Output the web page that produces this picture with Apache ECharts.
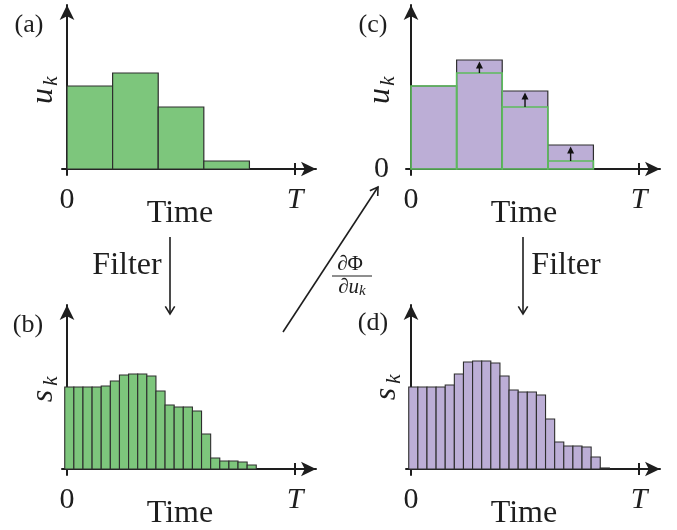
<!DOCTYPE html>
<html>
<head>
<meta charset="utf-8">
<script src="https://cdn.jsdelivr.net/npm/echarts@6/dist/echarts.min.js"></script>
<style>
html,body{margin:0;padding:0;background:#fff;}
#chart{width:677px;height:530px;}
</style>
</head>
<body>
<div id="chart"></div>
<script>
// ---- data ----
const xTickValues = [0, 5];
const xTickLabels = ['0', 'T'];
const yTickValuesC = [0];
const yTickLabelsC = ['0'];
const controlStep = 1;           // width of one control interval (T = 5 intervals)
const uInitial = [0.83, 0.96, 0.62, 0.08, 0];
const uUpdated = [0.83, 1.09, 0.78, 0.24, 0];
const filterStart = -0.05;       // start time of first filtered sample
const filterStep = 0.2;          // filtered sample width
const sInitial = [0.82, 0.82, 0.82, 0.82, 0.83, 0.88, 0.94, 0.95, 0.95, 0.93, 0.78,
                  0.64, 0.62, 0.62, 0.58, 0.35, 0.11, 0.08, 0.08, 0.07, 0.04, 0];
const sUpdated = [0.82, 0.82, 0.82, 0.82, 0.84, 0.95, 1.07, 1.08, 1.08, 1.06, 0.93,
                  0.79, 0.77, 0.77, 0.74, 0.50, 0.27, 0.23, 0.23, 0.22, 0.12, 0.01];
const tickT = [5];

// ---- styles ----
const FONT = 'Liberation Serif';
const INK = '#1e1e1e';
const GREEN = '#7dc67c';
const GREEN_LINE = '#5cbc5c';
const PURPLE = '#bcaed6';
const EDGE = '#2e2e2e';

const chart = echarts.init(document.getElementById('chart'), null, {renderer: 'canvas'});

const grids = [
  {left: 62, top: 5, width: 254, height: 170},
  {left: 62, top: 305, width: 254, height: 170},
  {left: 406, top: 5, width: 254, height: 170},
  {left: 406, top: 305, width: 254, height: 170}
];

function xAx(i) {
  return {
    type: 'value', gridIndex: i, min: -0.11, max: 5.46,
    splitLine: {show: false}, axisTick: {show: false},
    axisLine: {show: true, onZero: true, symbol: ['none', 'arrow'], symbolSize: [11, 15],
      lineStyle: {color: INK, width: 2}},
    axisLabel: {
      customValues: xTickValues, margin: 10, fontSize: 30, fontFamily: FONT, color: INK,
      formatter: function (v) {
        const lab = xTickLabels[xTickValues.indexOf(v)];
        return lab === 'T' ? '{it|T}' : lab;
      },
      rich: {it: {fontStyle: 'italic', fontSize: 30, fontFamily: FONT, color: INK}}
    }
  };
}
function yAx(i, withZero) {
  return {
    type: 'value', gridIndex: i, min: -0.06, max: 1.64,
    splitLine: {show: false}, axisTick: {show: false},
    axisLine: {show: true, onZero: true, symbol: ['none', 'arrow'], symbolSize: [11, 15],
      lineStyle: {color: INK, width: 2}},
    axisLabel: withZero ? {
      customValues: yTickValuesC, margin: 17, fontSize: 30, fontFamily: FONT, color: INK,
      formatter: function (v) { return yTickLabelsC[yTickValuesC.indexOf(v)]; }
    } : {show: false}
  };
}

function barRender(fill, stroke, lw) {
  return function (params, api) {
    const p0 = api.coord([api.value(0), 0]);
    const p1 = api.coord([api.value(1), api.value(2)]);
    return {
      type: 'rect',
      shape: {x: p0[0], y: p1[1], width: p1[0] - p0[0], height: p0[1] - p1[1]},
      style: {fill: fill, stroke: stroke, lineWidth: lw}
    };
  };
}
function tickRender(params, api) {
  const a = api.coord([api.value(0), -0.06]);
  const b = api.coord([api.value(0), 0.06]);
  return {type: 'line', shape: {x1: a[0], y1: a[1], x2: b[0], y2: b[1]},
    style: {stroke: INK, lineWidth: 2}};
}
function arrowRender(params, api) {
  const p0 = api.coord([api.value(0), api.value(1)]);
  const p1 = api.coord([api.value(0), api.value(2)]);
  const tip = p1[1] + 1.5;
  return {
    type: 'group',
    children: [
      {type: 'line', shape: {x1: p0[0], y1: p0[1], x2: p0[0], y2: tip + 5},
        style: {stroke: '#111', lineWidth: 1.4}},
      {type: 'polygon', shape: {points: [[p0[0] - 3.5, tip + 7], [p0[0], tip], [p0[0] + 3.5, tip + 7]]},
        style: {fill: '#111'}}
    ]
  };
}

const controlBars = arr => arr.map((v, k) => [k * controlStep, (k + 1) * controlStep, v]).filter(d => d[2] > 0);
const filterBars = arr => arr.map((v, i) => [filterStart + i * filterStep, filterStart + (i + 1) * filterStep, v]).filter(d => d[2] > 0);

const series = [];
// T ticks on every panel
for (let g = 0; g < 4; g++) {
  series.push({type: 'custom', xAxisIndex: g, yAxisIndex: g, data: tickT.map(v => [v]),
    renderItem: tickRender, silent: true, z: 3});
}
// (a)
series.push({type: 'custom', xAxisIndex: 0, yAxisIndex: 0, data: controlBars(uInitial),
  renderItem: barRender(GREEN, EDGE, 1.2), z: 2});
// (b)
series.push({type: 'custom', xAxisIndex: 1, yAxisIndex: 1, data: filterBars(sInitial),
  renderItem: barRender(GREEN, EDGE, 1.1), z: 2});
// (c) updated bars, old outlines, arrows
series.push({type: 'custom', xAxisIndex: 2, yAxisIndex: 2, data: controlBars(uUpdated),
  renderItem: barRender(PURPLE, EDGE, 1.2), z: 2});
series.push({type: 'custom', xAxisIndex: 2, yAxisIndex: 2, data: controlBars(uInitial),
  renderItem: barRender('none', GREEN_LINE, 1.6), z: 3});
series.push({type: 'custom', xAxisIndex: 2, yAxisIndex: 2,
  data: uInitial.map((v, k) => [(k + 0.5) * controlStep, v, uUpdated[k]]).filter(d => d[2] > d[1] + 0.02),
  renderItem: arrowRender, z: 4});
// (d)
series.push({type: 'custom', xAxisIndex: 3, yAxisIndex: 3, data: filterBars(sUpdated),
  renderItem: barRender(PURPLE, EDGE, 1.1), z: 2});

function txt(x, y, s, size, extra) {
  return Object.assign({type: 'text', x: x, y: y, z: 10,
    style: {text: s, fontSize: size, fontFamily: FONT, fill: INK, align: 'center', verticalAlign: 'middle'}}, extra || {});
}
function rotLabel(x, y, main, sub) {
  return {type: 'group', x: x, y: y, rotation: Math.PI / 2, z: 10, children: [
    {type: 'text', x: -6, y: -2, style: {text: main, fontSize: 32, fontStyle: 'italic', fontFamily: FONT, fill: INK, align: 'center', verticalAlign: 'middle'}},
    {type: 'text', x: 9, y: 5, style: {text: sub, fontSize: 21, fontStyle: 'italic', fontFamily: FONT, fill: INK, align: 'center', verticalAlign: 'middle'}}
  ]};
}
function arrowHeadLines(x, y, dx, dy, len, ang) {
  const L = Math.hypot(dx, dy), ux = dx / L, uy = dy / L;
  const rot = (a) => [ux * Math.cos(a) - uy * Math.sin(a), ux * Math.sin(a) + uy * Math.cos(a)];
  const r1 = rot(Math.PI - ang), r2 = rot(Math.PI + ang);
  return {type: 'polyline', z: 10, shape: {points: [[x + r1[0] * len, y + r1[1] * len], [x, y], [x + r2[0] * len, y + r2[1] * len]]},
    style: {stroke: INK, lineWidth: 1.6, fill: 'none'}};
}

const graphic = [
  txt(29, 25, '(a)', 26), txt(28, 325, '(b)', 26), txt(373, 25, '(c)', 26), txt(373, 323, '(d)', 26),
  txt(180, 214, 'Time', 32), txt(180, 514, 'Time', 32), txt(524, 214, 'Time', 32), txt(524, 514, 'Time', 32),
  rotLabel(46, 90, 'u', 'k'), rotLabel(46, 390, 's', 'k'), rotLabel(383, 90, 'u', 'k'), rotLabel(389, 388, 's', 'k'),
  txt(127, 266, 'Filter', 32), txt(566, 266, 'Filter', 32),
  // filter arrows
  {type: 'line', z: 10, shape: {x1: 170, y1: 237, x2: 170, y2: 314}, style: {stroke: INK, lineWidth: 1.6}},
  arrowHeadLines(170, 314, 0, 1, 9, 0.55),
  {type: 'line', z: 10, shape: {x1: 523, y1: 237, x2: 523, y2: 314}, style: {stroke: INK, lineWidth: 1.6}},
  arrowHeadLines(523, 314, 0, 1, 9, 0.55),
  // gradient arrow
  {type: 'line', z: 10, shape: {x1: 283, y1: 332, x2: 378, y2: 187}, style: {stroke: INK, lineWidth: 1.6}},
  arrowHeadLines(378, 187, 95, -145, 9, 0.55),
  // fraction
  txt(350, 264, '∂Φ', 21),
  {type: 'line', z: 10, shape: {x1: 332, y1: 276, x2: 372, y2: 276}, style: {stroke: INK, lineWidth: 1}},
  {type: 'text', x: 352, y: 287, z: 10, style: {text: '∂{i|u}{k|k}', fontSize: 21, fontFamily: FONT, fill: INK, align: 'center', verticalAlign: 'middle',
    rich: {i: {fontSize: 21, fontStyle: 'italic', fontFamily: FONT, fill: INK}, k: {fontSize: 15, fontStyle: 'italic', fontFamily: FONT, fill: INK, padding: [8, 0, 0, 0]}}}}
];

chart.setOption({
  animation: false,
  backgroundColor: '#ffffff',
  grid: grids,
  xAxis: [xAx(0), xAx(1), xAx(2), xAx(3)],
  yAxis: [yAx(0, false), yAx(1, false), yAx(2, true), yAx(3, false)],
  series: series,
  graphic: graphic
});
</script>
</body>
</html>
